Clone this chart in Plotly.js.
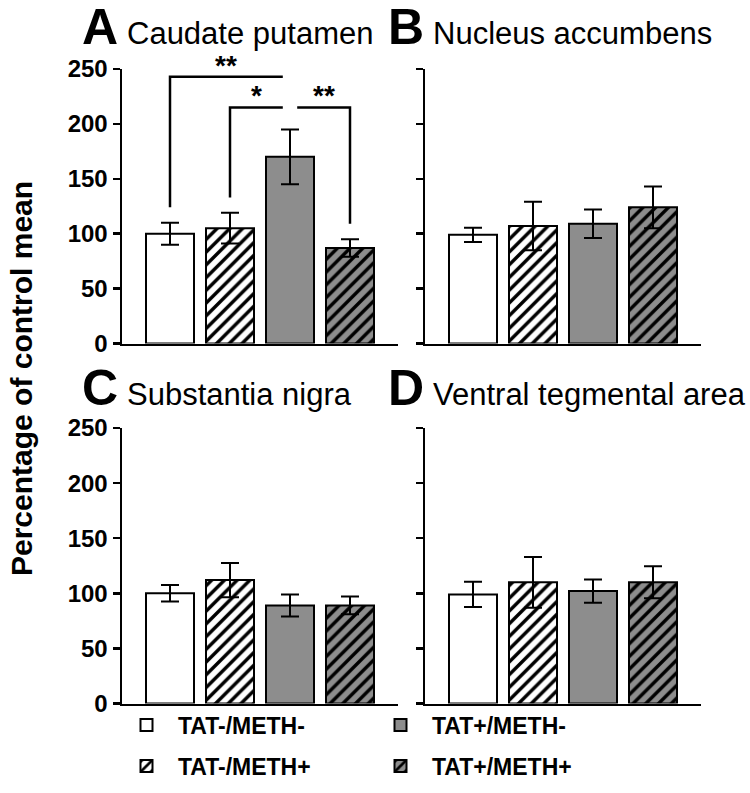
<!DOCTYPE html>
<html>
<head>
<meta charset="utf-8">
<script src="https://cdn.plot.ly/plotly-3.0.1.min.js"></script>
<style>html,body{margin:0;padding:0;background:#fff;}#chart{width:750px;height:793px;}</style>
</head>
<body>
<div id="chart"></div>
<script>
// ---- data ----
const groups = ['TAT-/METH-', 'TAT-/METH+', 'TAT+/METH-', 'TAT+/METH+'];
const panelLetters = ['A', 'B', 'C', 'D'];
const regions = ['Caudate putamen', 'Nucleus accumbens', 'Substantia nigra', 'Ventral tegmental area'];
const meanCP = [100, 105, 170, 87];
const errCP = [10, 14, 25, 8];
const meanNA = [99, 107, 109, 124];
const errNA = [6.5, 22, 13, 19];
const meanSN = [100, 112, 89, 89];
const errSN = [7.5, 15.5, 10, 8];
const meanVTA = [99, 110, 102, 110];
const errVTA = [11.5, 23, 10.5, 14.5];
const yTicks = [0, 50, 100, 150, 200, 250];
// significance comparisons in panel A: [fromGroup, toGroup, bracketLevel, label]
const sigFrom = [0, 1, 3];
const sigTo = [2, 2, 2];
const sigLevel = [243, 215, 215];
const sigLabel = ['**', '*', '**'];

// ---- styles ----
const FONT = 'Liberation Sans, Arial, Helvetica, sans-serif';
const GRAY = '#8d8d8d';
const fills = ['white', 'white', GRAY, GRAY];
const hatched = [false, true, false, true];
const W = 750, H = 793;
const px = v => v / W;
const py = v => 1 - v / H;

const panelMeans = [meanCP, meanNA, meanSN, meanVTA];
const panelErrs = [errCP, errNA, errSN, errVTA];
const legendIds = ['legend', 'legend2', 'legend3', 'legend4'];

const traces = [];
panelMeans.forEach((means, p) => {
  const ax = p === 0 ? '' : String(p + 1);
  groups.forEach((g, i) => {
    const pattern = hatched[i]
      ? {shape: '/', fgcolor: 'black', bgcolor: fills[i], size: 9, solidity: 0.38, fillmode: 'replace'}
      : {shape: ''};
    traces.push({
      type: 'bar',
      name: g,
      x: [g],
      y: [means[i]],
      width: 0.8,
      xaxis: 'x' + ax,
      yaxis: 'y' + ax,
      legend: legendIds[i],
      legendgroup: g,
      showlegend: p === 0,
      marker: {color: fills[i], line: {color: 'black', width: 2}, pattern: pattern},
      error_y: {type: 'data', array: [panelErrs[p][i]], visible: true, color: 'black', thickness: 2, width: 9},
      hoverinfo: 'skip'
    });
  });
});

// axis domains (pixels -> paper)
const colX = [[122, 398], [425, 701]];
const rowY = [[69, 343.5], [428, 703.5]];

const layout = {
  width: W, height: H, autosize: false,
  margin: {l: 0, r: 0, t: 0, b: 0, pad: 0},
  paper_bgcolor: 'white', plot_bgcolor: 'white',
  barmode: 'overlay',
  font: {family: FONT, color: 'black'},
  shapes: [], annotations: []
};

for (let p = 0; p < 4; p++) {
  const ax = p === 0 ? '' : String(p + 1);
  const col = p % 2, row = Math.floor(p / 2);
  layout['xaxis' + ax] = {
    domain: [px(colX[col][0]), px(colX[col][1])],
    anchor: 'y' + ax,
    type: 'category', categoryarray: groups, categoryorder: 'array',
    range: [-0.8, 3.8],
    showline: true, linewidth: 2.5, linecolor: 'black',
    ticks: '', showticklabels: false, showgrid: false, zeroline: false, fixedrange: true
  };
  layout['yaxis' + ax] = {
    domain: [py(rowY[row][1]), py(rowY[row][0])],
    anchor: 'x' + ax,
    range: [0, 250],
    tickvals: yTicks,
    showline: true, linewidth: 2.5, linecolor: 'black',
    ticks: 'outside', ticklen: 7, tickwidth: 2.5, tickcolor: 'black',
    showticklabels: col === 0,
    tickfont: {family: FONT, size: 24, color: 'black', weight: 'bold'},
    showgrid: false, zeroline: false, fixedrange: true
  };
  // panel letter + region title
  const lx = col === 0 ? 80 : 386;
  const baseY = row === 0 ? 45 : 406;
  layout.annotations.push({
    xref: 'paper', yref: 'paper', x: px(lx), y: py(baseY + 12), xanchor: 'left', yanchor: 'bottom',
    text: '<b>' + panelLetters[p] + '</b>', showarrow: false,
    font: {family: FONT, size: 50, color: 'black'}
  });
  layout.annotations.push({
    xref: 'paper', yref: 'paper', x: px(lx + 45), y: py(baseY + 8), xanchor: 'left', yanchor: 'bottom',
    text: regions[p], showarrow: false,
    font: {family: FONT, size: 31, color: 'black'}
  });
}

// significance brackets in panel A
const gap = 0.12;
sigFrom.forEach((f, k) => {
  const t = sigTo[k];
  const lvl = sigLevel[k];
  const foot = meanCP[f] + errCP[f] + 14;
  const tEnd = f < t ? t - gap : t + gap;
  layout.shapes.push({
    type: 'path', xref: 'x', yref: 'y',
    path: 'M ' + f + ',' + foot + ' L ' + f + ',' + lvl + ' L ' + tEnd + ',' + lvl,
    line: {color: 'black', width: 2.5}
  });
  layout.annotations.push({
    xref: 'x', yref: 'y', x: (f + tEnd) / 2, y: lvl, xanchor: 'center', yanchor: 'bottom', yshift: -6,
    text: '<b>' + sigLabel[k] + '</b>', showarrow: false,
    font: {family: FONT, size: 28, color: 'black'}
  });
});

// y axis title
layout.annotations.push({
  xref: 'paper', yref: 'paper', x: px(22), y: py(379), xanchor: 'center', yanchor: 'middle',
  text: '<b>Percentage of control mean</b>', textangle: -90, showarrow: false,
  font: {family: FONT, size: 30, color: 'black'}
});

// legends (one item each): column and row of each group
const legCol = [0, 0, 1, 1];
const legRow = [0, 1, 0, 1];
const legColX = [115, 369];
const legRowY = [725, 766];
legendIds.forEach((id, i) => {
  layout[id] = {
    x: px(legColX[legCol[i]]),
    y: py(legRowY[legRow[i]]),
    xanchor: 'left', yanchor: 'middle',
    bgcolor: 'rgba(0,0,0,0)', borderwidth: 0,
    itemwidth: 53,
    font: {family: FONT, size: 23, color: 'black', weight: 'bold'},
    itemclick: false, itemdoubleclick: false
  };
});

Plotly.newPlot('chart', traces, layout, {staticPlot: true, displayModeBar: false});
</script>
</body>
</html>
